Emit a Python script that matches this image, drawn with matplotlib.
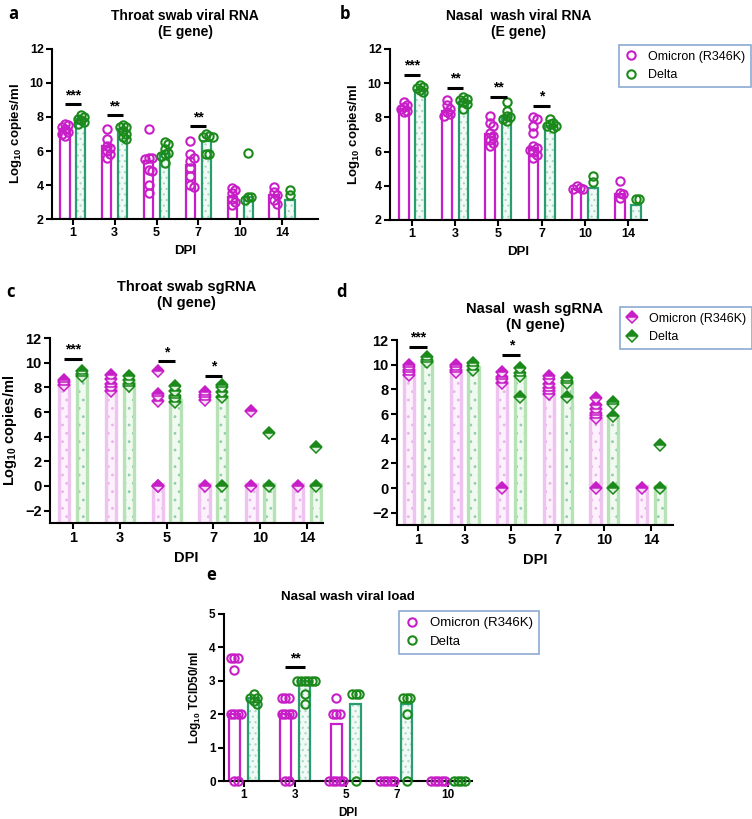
import matplotlib
matplotlib.use("Agg")
import matplotlib.pyplot as plt
from matplotlib.lines import Line2D
import numpy as np

plt.rcParams['font.family'] = ['Liberation Sans', 'DejaVu Sans']
plt.rcParams['mathtext.fontset'] = 'custom'
plt.rcParams['mathtext.rm'] = 'Liberation Sans:bold'
plt.rcParams['mathtext.default'] = 'rm'
plt.rcParams['hatch.linewidth'] = 0.8

MAG = '#c81ec8'
GRN = '#1b8a1b'
TEAL = '#2a9d70'
PINK_BAR = '#efc3f0'
GRN_BAR = '#b6e2b6'

DPI6 = ['1', '3', '5', '7', '10', '14']
DPI5 = ['1', '3', '5', '7', '10']

# ---- a: throat swab viral RNA (E gene) --------------------------------
a_omi_bar = [7.3, 6.3, 5.4, 5.2, 3.3, 3.4]
a_del_bar = [7.9, 7.3, 5.8, 6.6, 3.3, 3.1]
a_omi_pts = [[7.6, 7.5, 7.4, 7.3, 7.1, 6.9, 7.0],
             [7.3, 6.7, 6.3, 6.2, 6.0, 5.8, 5.6],
             [7.3, 5.6, 5.6, 5.5, 4.9, 4.8, 4.0, 3.5],
             [6.6, 5.8, 5.6, 5.4, 5.0, 4.5, 4.0, 3.9],
             [3.8, 3.7, 3.5, 3.2, 3.0, 2.8],
             [3.9, 3.6, 3.4, 3.1, 2.9]]
a_del_pts = [[8.1, 8.0, 7.9, 7.8, 7.7, 7.6],
             [7.5, 7.4, 7.4, 7.2, 7.0, 6.8, 6.7],
             [6.5, 6.4, 6.1, 5.9, 5.8, 5.7, 5.3],
             [7.0, 6.9, 6.8, 6.8, 5.8, 5.8],
             [5.9, 3.3, 3.3, 3.1],
             [3.7, 3.4]]
a_sig = [(0, 8.75, '***'), (1, 8.1, '**'), (3, 7.45, '**')]

# ---- b: nasal wash viral RNA (E gene) ----------------------------------
b_omi_bar = [8.5, 8.4, 7.0, 6.2, 3.8, 3.5]
b_del_bar = [9.6, 8.9, 8.0, 7.5, 3.9, 2.9]
b_omi_pts = [[8.9, 8.7, 8.6, 8.5, 8.4, 8.3],
             [9.0, 8.7, 8.5, 8.3, 8.2, 8.1],
             [8.1, 7.7, 7.5, 7.1, 6.9, 6.7, 6.5, 6.3],
             [8.0, 7.9, 7.5, 7.1, 6.3, 6.2, 6.1, 6.0, 5.8, 5.6],
             [4.0, 3.9, 3.8, 3.8],
             [4.3, 3.6, 3.5, 3.3]]
b_del_pts = [[9.9, 9.8, 9.7, 9.6, 9.5],
             [9.2, 9.1, 9.0, 8.9, 8.8, 8.5],
             [8.9, 8.4, 8.1, 8.0, 7.9, 7.8],
             [7.9, 7.7, 7.6, 7.5, 7.5, 7.4],
             [4.6, 4.2],
             [3.2, 3.2]]
b_sig = [(0, 10.48, '***'), (1, 9.72, '**'), (2, 9.2, '**'), (3, 8.67, '*')]

# ---- c: throat swab sgRNA (N gene) --------------------------------------
c_omi_bar = [8.4, 8.2, 0.2, 0.2, 0.2, 0.2]
c_del_bar = [9.0, 8.4, 7.0, 7.2, 0.2, 0.2]
c_omi_pts = [[8.6, 8.4, 8.2],
             [9.0, 8.7, 8.3, 8.0, 7.7],
             [9.3, 7.5, 7.3, 6.9, 0, 0],
             [7.6, 7.4, 7.2, 7.0, 0],
             [6.1, 0],
             [0]]
c_del_pts = [[9.3, 9.1, 8.9],
             [8.9, 8.6, 8.3, 8.1],
             [8.1, 7.7, 7.3, 7.1, 6.8],
             [8.2, 8.0, 7.6, 7.2, 0],
             [4.3, 0],
             [3.2, 0]]
c_sig = [(0, 10.3, '***'), (2, 10.1, '*'), (3, 8.9, '*')]

# ---- d: nasal wash sgRNA (N gene) ---------------------------------------
d_omi_bar = [9.6, 9.6, 8.6, 8.2, 5.8, 0.2]
d_del_bar = [10.3, 9.8, 9.0, 8.5, 5.8, 0.2]
d_omi_pts = [[10.0, 9.8, 9.6, 9.4, 9.2],
             [10.0, 9.8, 9.6, 9.4],
             [9.4, 9.0, 8.8, 8.5, 0],
             [9.1, 8.8, 8.4, 8.1, 7.9, 7.6],
             [7.3, 6.7, 6.4, 6.1, 5.9, 5.7, 0],
             [0]]
d_del_pts = [[10.6, 10.4, 10.2],
             [10.1, 9.9, 9.6],
             [9.7, 9.3, 9.1, 7.4],
             [8.9, 8.7, 8.5, 7.4],
             [7.0, 6.8, 5.8, 0],
             [3.5, 0]]
d_sig = [(0, 11.4, '***'), (2, 10.8, '*')]

# ---- e: nasal wash viral load (TCID50) ----------------------------------
e_omi_bar = [2.0, 2.0, 1.7, 0.0, 0.0]
e_del_bar = [2.5, 3.0, 2.3, 2.3, 0.0]
e_omi_pts = [[3.67, 3.67, 3.67, 3.33, 2.0, 2.0, 2.0, 2.0, 0, 0],
             [2.5, 2.5, 2.5, 2.0, 2.0, 2.0, 2.0, 0, 0],
             [2.5, 2.0, 2.0, 2.0, 0, 0, 0, 0, 0],
             [0, 0, 0, 0, 0],
             [0, 0, 0, 0, 0]]
e_del_pts = [[2.6, 2.5, 2.5, 2.4, 2.3],
             [3.0, 3.0, 3.0, 3.0, 3.0, 3.0, 2.6, 2.3],
             [2.6, 2.6, 2.6, 0],
             [2.5, 2.5, 2.5, 2.0, 0],
             [0, 0, 0, 0]]
e_sig = [(1, 3.41, '**')]

OFF = 0.19
BW = 0.22
W, H = 752, 819


def swarm(vals, step, ythr):
    placed, offs = [], []
    for v in vals:
        for k in [0, 1, -1, 2, -2, 3, -3, 4, -4]:
            o = k * step
            if all(abs(v - pv) >= ythr or abs(o - po) >= step * 0.95
                   for pv, po in placed):
                break
        placed.append((v, o))
        offs.append(o)
    return np.array(offs)


def px_axes(l, t, r, b):
    return fig.add_axes([l / W, 1 - b / H, (r - l) / W, (b - t) / H])


def style(ax, labels, xlim, ylim, yticks, ylabel, fs=9, lfs=9):
    ax.set_xlim(*xlim)
    ax.set_ylim(*ylim)
    ax.set_xticks(range(len(labels)))
    ax.set_xticklabels(labels)
    ax.set_yticks(yticks)
    for s in ['top', 'right']:
        ax.spines[s].set_visible(False)
    for s in ['left', 'bottom']:
        ax.spines[s].set_linewidth(1.5)
    ax.tick_params(direction='out', width=1.5, length=4, labelsize=fs, pad=2)
    for t in ax.get_xticklabels() + ax.get_yticklabels():
        t.set_fontweight('bold')
    ax.set_ylabel(ylabel, fontsize=lfs, fontweight='bold')
    ax.set_xlabel('DPI', fontsize=lfs, fontweight='bold')


def open_bars(ax, omi_bar, del_bar, omi_pts, del_pts, base, step, ythr, sig):
    x = np.arange(len(omi_bar))
    ax.bar(x - OFF, np.array(omi_bar) - base, BW, bottom=base,
           facecolor='white', edgecolor=MAG, linewidth=1.6, zorder=2)
    ax.bar(x + OFF, np.array(del_bar) - base, BW, bottom=base,
           facecolor='#f1faf6', edgecolor='#a8d8c4', hatch='...',
           linewidth=0, zorder=2)
    ax.bar(x + OFF, np.array(del_bar) - base, BW, bottom=base,
           facecolor='none', edgecolor=TEAL, linewidth=1.6, zorder=2)
    for i in x:
        ov = np.array(omi_pts[i])
        dv = np.array(del_pts[i])
        ax.plot(i - OFF + swarm(ov, step, ythr), ov, 'o', ms=6, mfc='none',
                mec=MAG, mew=1.5, zorder=4, clip_on=False)
        ax.plot(i + OFF + swarm(dv, step, ythr), dv, 'o', ms=6, mfc='none',
                mec=GRN, mew=1.5, zorder=4, clip_on=False)
    add_sig(ax, sig)


def diamond_bars(ax, omi_bar, del_bar, omi_pts, del_pts, base, sig):
    x = np.arange(len(omi_bar))
    for xs, hs, ec, fc, hc in [(x - OFF, omi_bar, PINK_BAR, '#fcf1fc', '#e7b5e8'),
                               (x + OFF, del_bar, GRN_BAR, '#f1faf1', '#8fcfa8')]:
        ax.bar(xs, np.array(hs) - base, BW, bottom=base, facecolor=fc,
               edgecolor=hc, hatch='..', linewidth=0, zorder=2)
        ax.bar(xs, np.array(hs) - base, BW, bottom=base, facecolor='none',
               edgecolor=ec, linewidth=2.4, zorder=2)
    for i in x:
        ax.plot(np.full(len(omi_pts[i]), i - OFF), omi_pts[i], 'D', ms=6.5,
                fillstyle='top', mfc=MAG, mfcalt='#f6dcf6', mec=MAG, mew=1.1,
                zorder=4)
        ax.plot(np.full(len(del_pts[i]), i + OFF), del_pts[i], 'D', ms=6.5,
                fillstyle='top', mfc=GRN, mfcalt='#dcf0dc', mec=GRN, mew=1.1,
                zorder=4)
    add_sig(ax, sig)


def add_sig(ax, sig):
    y0, y1 = ax.get_ylim()
    for i, y, s in sig:
        ax.plot([i - OFF, i + OFF], [y, y], color='black', lw=2.2, zorder=5,
                solid_capstyle='butt')
        ax.text(i, y + (y1 - y0) * 0.015, s, ha='center', va='bottom',
                fontsize=10, fontweight='bold', zorder=5)


def legend(handles, l, t, fs=9):
    leg = fig.legend(handles=handles, loc='upper left',
                     bbox_to_anchor=(l / W, 1 - t / H),
                     frameon=True, fancybox=False, fontsize=fs,
                     handlelength=1.0, handletextpad=0.9, borderaxespad=0,
                     labelspacing=0.5, borderpad=0.45)
    leg.get_frame().set_edgecolor('#6f95c8')
    leg.get_frame().set_linewidth(1.2)


circle_handles = [
    Line2D([], [], marker='o', ls='none', ms=6, mfc='none', mec=MAG, mew=1.5,
           label='Omicron (R346K)'),
    Line2D([], [], marker='o', ls='none', ms=6, mfc='none', mec=GRN, mew=1.5,
           label='Delta')]
diamond_handles = [
    Line2D([], [], marker='D', ls='none', ms=6, fillstyle='top', mfc=MAG,
           mfcalt='#f6dcf6', mec=MAG, mew=1.1, label='Omicron (R346K)'),
    Line2D([], [], marker='D', ls='none', ms=6, fillstyle='top', mfc=GRN,
           mfcalt='#dcf0dc', mec=GRN, mew=1.1, label='Delta')]

fig = plt.figure(figsize=(W / 100, H / 100), dpi=100)
ylab = 'Log$_{10}$ copies/ml'

# a
ax = px_axes(52, 49, 318, 219)
open_bars(ax, a_omi_bar, a_del_bar, a_omi_pts, a_del_pts, 2, 0.075, 0.28, a_sig)
style(ax, DPI6, (-0.5, 5.86), (2, 12), range(2, 13, 2), ylab, fs=9, lfs=9.5)
ax.set_title('Throat swab viral RNA\n(E gene)', fontsize=10, fontweight='bold', pad=9)

# b
ax = px_axes(390, 49, 647, 220)
open_bars(ax, b_omi_bar, b_del_bar, b_omi_pts, b_del_pts, 2, 0.075, 0.28, b_sig)
style(ax, DPI6, (-0.51, 5.44), (2, 12), range(2, 13, 2), ylab, fs=9, lfs=9.5)
ax.set_title('Nasal  wash viral RNA\n(E gene)', fontsize=10, fontweight='bold', pad=9)
legend(circle_handles, 619, 45, fs=9)

# c
ax = px_axes(50, 338, 323, 523)
diamond_bars(ax, c_omi_bar, c_del_bar, c_omi_pts, c_del_pts, -3, c_sig)
style(ax, DPI6, (-0.49, 5.34), (-3, 12), range(-2, 13, 2), ylab, fs=10.5, lfs=10.5)
ax.set_title('Throat swab sgRNA\n(N gene)', fontsize=10.5, fontweight='bold', pad=22)

# d
ax = px_axes(397, 340, 673, 525)
diamond_bars(ax, d_omi_bar, d_del_bar, d_omi_pts, d_del_pts, -3, d_sig)
style(ax, DPI6, (-0.45, 5.47), (-3, 12), range(-2, 13, 2), '', fs=10.5, lfs=10.5)
ax.set_title('Nasal  wash sgRNA\n(N gene)', fontsize=10.5, fontweight='bold', pad=8)
legend(diamond_handles, 620, 307, fs=9)

# e
ax = px_axes(224, 614, 472, 781)
open_bars(ax, e_omi_bar, e_del_bar, e_omi_pts, e_del_pts, 0, 0.07, 0.13, e_sig)
style(ax, DPI5, (-0.39, 4.47), (0, 5), range(0, 6), 'Log$_{10}$ TCID50/ml', fs=8.5, lfs=8.5)
ax.set_title('Nasal wash viral load', fontsize=9.5, fontweight='bold', pad=10)
legend(circle_handles, 399, 611, fs=9.5)

for s, px, py in [('a', 8, 14), ('b', 340, 14), ('c', 6, 292), ('d', 336, 292), ('e', 206, 575)]:
    fig.text(px / W, 1 - py / H, s, fontsize=12, fontweight='bold',
             family=['Open Sans', 'DejaVu Sans'], va='center')

fig.savefig('out.png', dpi=100)
